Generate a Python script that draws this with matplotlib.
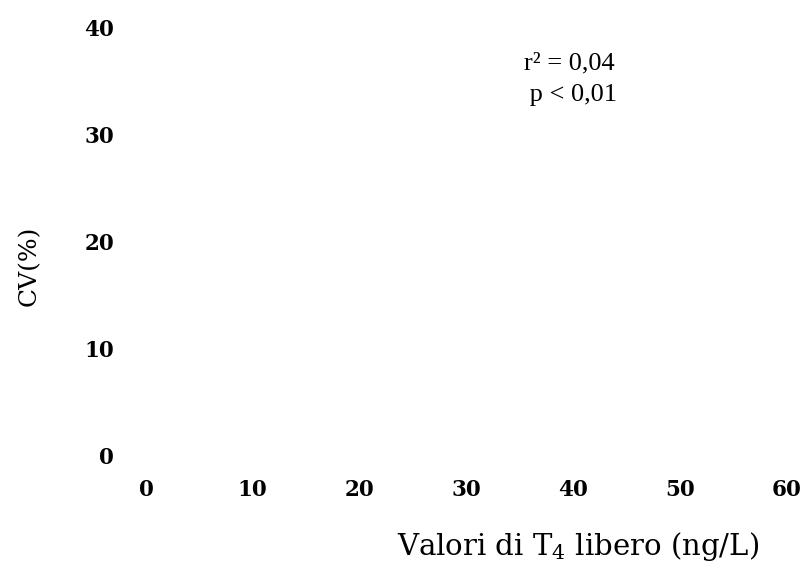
import matplotlib
matplotlib.use('Agg')
import matplotlib.pyplot as plt

# chart content (no data points are drawn in the reference)
x_ticks = [0, 10, 20, 30, 40, 50, 60]
y_ticks = [0, 10, 20, 30, 40]
cv_values = []      # CV(%) - empty in the source figure
ft4_values = []     # free T4 values - empty in the source figure
stats_lines = ['r\u00b2 = 0,04', ' p < 0,01']

plt.rcParams['mathtext.fontset'] = 'dejavuserif'

fig = plt.figure(figsize=(8.06, 5.63), dpi=100)
ax = fig.add_axes([0.1811, 0.1918, 0.7953, 0.7602])

ax.scatter(ft4_values, cv_values, s=10, color='black')
ax.set_xlim(0, 60)
ax.set_ylim(0, 40)

# no frame, no tick marks: only the labels
for s in ax.spines.values():
    s.set_visible(False)
ax.set_xticks(x_ticks)
ax.set_yticks(y_ticks)
ax.tick_params(axis='both', length=0)
ax.tick_params(axis='y', pad=23)
ax.tick_params(axis='x', pad=17)
for lab in ax.get_xticklabels() + ax.get_yticklabels():
    lab.set_fontfamily('DejaVu Serif')
    lab.set_fontweight('bold')
    lab.set_fontsize(15.5)

# axis labels, placed in figure coordinates
fig.text(0.717, 0.030, 'Valori di T$_4$ libero (ng/L)', family='DejaVu Serif',
         fontsize=21, ha='center', va='center')
fig.text(0.036, 0.528, 'CV(%)', family='DejaVu Serif', fontsize=18,
         rotation=90, ha='center', va='center')

# regression stats
fig.text(0.763, 0.888, stats_lines[0], family='Liberation Serif', fontsize=19,
         ha='right', va='center')
fig.text(0.765, 0.831, stats_lines[1], family='Liberation Serif', fontsize=19,
         ha='right', va='center')

plt.savefig('out.png', dpi=100)
plt.close()
